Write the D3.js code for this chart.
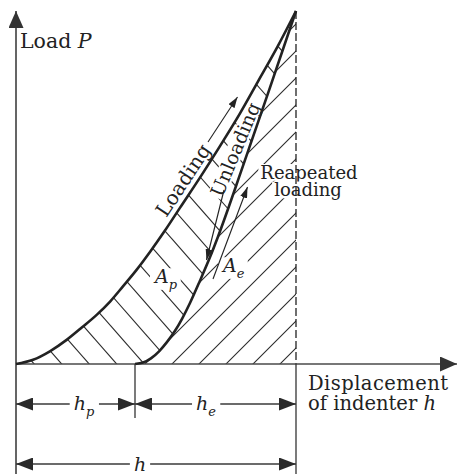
<!DOCTYPE html>
<html><head><meta charset="utf-8">
<script src="https://cdn.jsdelivr.net/npm/d3@7"></script>
<style>
html,body{margin:0;padding:0;background:#fff;}
svg{display:block;}
text{font-family:"DejaVu Serif",serif;fill:#222;}
</style></head><body>
<svg id="chart" width="457" height="474"></svg>
<script>
// Loading branch of the indentation curve (h / h_max, P / P_max)
const loadH = [0, 0.061, 0.121, 0.182, 0.236, 0.289, 0.336, 0.382, 0.432, 0.479, 0.532, 0.586, 0.657, 0.729, 0.800, 0.864, 0.936, 1.0];
const loadP = [0, 0.012, 0.036, 0.069, 0.104, 0.140, 0.177, 0.220, 0.268, 0.318, 0.378, 0.443, 0.528, 0.618, 0.710, 0.800, 0.902, 1.0];
// Unloading branch, from the residual depth h_p back up to the peak
const unloadH = [0.425, 0.454, 0.482, 0.511, 0.539, 0.568, 0.593, 0.621, 0.657, 0.693, 0.721, 0.811, 0.907, 1.0];
const unloadP = [0, 0.004, 0.016, 0.036, 0.062, 0.094, 0.128, 0.172, 0.236, 0.303, 0.360, 0.562, 0.783, 1.0];
// Residual (plastic) depth and full depth
const hPlastic = 0.425;
const hTotal = 1.0;
// Dimension labels: [symbol, subscript]
const dimLabels = [["h", "p"], ["h", "e"], ["h", ""]];

const W = 457, H = 474;
const svg = d3.select("#chart");
const defs = svg.append("defs");

const x = d3.scaleLinear().domain([0, 1]).range([16, 296]);
const y = d3.scaleLinear().domain([0, 1]).range([364, 11]);

const ink = "#222", axisInk = "#4a4a4a";

function addMarker(id, len, half, color) {
  defs.append("marker")
    .attr("id", id)
    .attr("viewBox", `0 ${-half} ${len} ${2 * half}`)
    .attr("refX", len).attr("refY", 0)
    .attr("markerWidth", len).attr("markerHeight", 2 * half)
    .attr("markerUnits", "userSpaceOnUse")
    .attr("orient", "auto-start-reverse")
    .append("path")
    .attr("d", `M0,${-half}L${len},0L0,${half}Z`)
    .attr("fill", color);
}
addMarker("axisHead", 17, 7.5, "#333");
addMarker("dimHead", 17, 6.5, "#2a2a2a");
addMarker("smallHead", 11, 3.6, ink);

const loading = d3.zip(loadH, loadP);
const unloading = d3.zip(unloadH, unloadP);
const curve = d3.line().x(d => x(d[0])).y(d => y(d[1])).curve(d3.curveMonotoneX);

// Hatched regions: A_p between the branches, A_e under the unloading branch
const apPath = curve(loading) + "L" + curve(unloading.slice().reverse()).slice(1) + "Z";
const aePath = curve(unloading) + `L${x(hTotal)},${y(0)}Z`;
defs.append("clipPath").attr("id", "clipAp").append("path").attr("d", apPath);
defs.append("clipPath").attr("id", "clipAe").append("path").attr("d", aePath);

function hatch(clipId, slope, c0, step) {
  const g = svg.append("g").attr("clip-path", `url(#${clipId})`);
  const y0 = y(0), L = 600;
  g.selectAll("line").data(d3.range(-30, 30)).join("line")
    .attr("x1", k => c0 + k * step - L).attr("y1", y0 - slope * L)
    .attr("x2", k => c0 + k * step + L).attr("y2", y0 + slope * L)
    .attr("stroke", "#2a2a2a").attr("stroke-width", 1.1);
}
hatch("clipAp", 1.14, 61.7, 27.5);
hatch("clipAe", -1, 280, 27);

// White backing behind a label so the hatching breaks around it
function bgBox(g, text, pad) {
  const b = text.node().getBBox();
  g.insert("rect", "text")
    .attr("x", b.x - pad).attr("y", b.y + b.height * 0.12)
    .attr("width", b.width + 2 * pad).attr("height", b.height * 0.8)
    .attr("fill", "#fff");
}

const lblLayer = svg.append("g");

// A_p and A_e
function areaLabel(px, py, sub) {
  const g = lblLayer.append("g");
  const t = g.append("text").attr("x", px).attr("y", py).attr("font-size", 19);
  t.append("tspan").attr("font-style", "italic").text("A");
  t.append("tspan").attr("font-style", "italic").attr("font-size", 13).attr("dy", 6).text(sub);
  bgBox(g, t, 3);
}
areaLabel(155, 283, "p");
areaLabel(223, 272, "e");

// Unloading (along the branch)
{
  const g = lblLayer.append("g").attr("transform", "translate(241.5,152) rotate(-67.4)");
  const t = g.append("text").attr("text-anchor", "middle").attr("font-size", 19).text("Unloading");
  bgBox(g, t, 2);
}
// Reapeated loading
{
  const g1 = lblLayer.append("g");
  const t1 = g1.append("text").attr("text-anchor", "middle").attr("font-size", 18)
    .attr("x", 309).attr("y", 178.5).text("Reapeated");
  bgBox(g1, t1, 2);
  const g2 = lblLayer.append("g");
  const t2 = g2.append("text").attr("text-anchor", "middle").attr("font-size", 18)
    .attr("x", 308).attr("y", 196).text("loading");
  bgBox(g2, t2, 2);
}

// Dashed bound at the maximum depth
svg.append("line")
  .attr("x1", x(hTotal)).attr("x2", x(hTotal))
  .attr("y1", y(1)).attr("y2", y(0))
  .attr("stroke", ink).attr("stroke-width", 1.3)
  .attr("stroke-dasharray", "8,3");

// Axes
svg.append("line")
  .attr("x1", x(0)).attr("x2", x(0)).attr("y1", H).attr("y2", 11)
  .attr("stroke", axisInk).attr("stroke-width", 1.7)
  .attr("marker-end", "url(#axisHead)");
svg.append("line")
  .attr("x1", x(0)).attr("x2", W).attr("y1", y(0)).attr("y2", y(0))
  .attr("stroke", axisInk).attr("stroke-width", 1.7)
  .attr("marker-end", "url(#axisHead)");

// Loading / unloading branches
svg.append("path").attr("d", curve(loading))
  .attr("fill", "none").attr("stroke", ink).attr("stroke-width", 2.6);
svg.append("path").attr("d", curve(unloading))
  .attr("fill", "none").attr("stroke", ink).attr("stroke-width", 2.6);

// Direction arrows alongside the branches
function dirArrow(x1, y1, x2, y2) {
  svg.append("line").attr("x1", x1).attr("y1", y1).attr("x2", x2).attr("y2", y2)
    .attr("stroke", ink).attr("stroke-width", 1.1)
    .attr("marker-end", "url(#smallHead)");
}
dirArrow(208, 142, 237.5, 97);
dirArrow(224, 190, 206.5, 260);
dirArrow(213, 279, 247.5, 187);

// Loading label
svg.append("g").attr("transform", "translate(189,184) rotate(-56.5)")
  .append("text").attr("text-anchor", "middle").attr("font-size", 20).text("Loading");

// Axis titles
{
  const t = svg.append("text").attr("x", 20).attr("y", 48).attr("font-size", 20.5);
  t.append("tspan").text("Load ");
  t.append("tspan").attr("font-style", "italic").text("P");
  svg.append("text").attr("font-size", 19.5).attr("x", 308).attr("y", 389.5)
    .attr("textLength", 140).text("Displacement");
  const t3 = svg.append("text").attr("font-size", 19.5).attr("x", 308).attr("y", 410);
  t3.append("tspan").text("of indenter ");
  t3.append("tspan").attr("font-style", "italic").text("h");
}

// Dimension lines under the axis
const row1 = 404, row2 = 464;
svg.append("line").attr("x1", x(hPlastic)).attr("x2", x(hPlastic)).attr("y1", y(0)).attr("y2", 418)
  .attr("stroke", "#333").attr("stroke-width", 1.3);
svg.append("line").attr("x1", x(hTotal)).attr("x2", x(hTotal)).attr("y1", y(0)).attr("y2", H)
  .attr("stroke", "#333").attr("stroke-width", 1.3);

const dims = [
  { a: 0, b: hPlastic, row: row1, lab: dimLabels[0], cx: 84 },
  { a: hPlastic, b: hTotal, row: row1, lab: dimLabels[1], cx: 206 },
  { a: 0, b: hTotal, row: row2, lab: dimLabels[2], cx: 140 }
];
dims.forEach(d => {
  svg.append("line")
    .attr("x1", x(d.a)).attr("x2", x(d.b)).attr("y1", d.row).attr("y2", d.row)
    .attr("stroke", "#3a3a3a").attr("stroke-width", 1.5)
    .attr("marker-start", "url(#dimHead)").attr("marker-end", "url(#dimHead)");
  const g = svg.append("g");
  const t = g.append("text").attr("x", d.cx).attr("y", d.row + (d.lab[1] ? 6 : 7))
    .attr("text-anchor", "middle").attr("font-size", 19);
  t.append("tspan").attr("font-style", "italic").text(d.lab[0]);
  if (d.lab[1]) t.append("tspan").attr("font-style", "italic").attr("font-size", 13).attr("dy", 6).text(d.lab[1]);
  bgBox(g, t, 4);
});
</script>
</body></html>
